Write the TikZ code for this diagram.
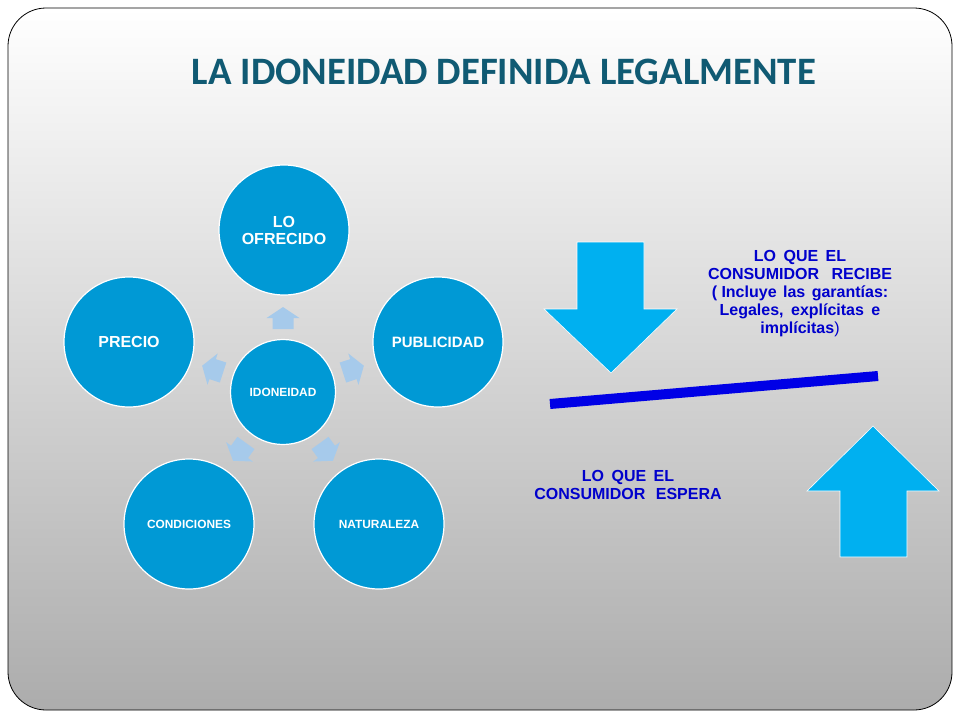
\documentclass[tikz,border=0pt]{standalone}
\usepackage{fontspec}
\setmainfont{Liberation Sans}
\newfontfamily\titlefont{Carlito}
\usetikzlibrary{calc}
\definecolor{titleteal}{RGB}{16,90,115}
\definecolor{circblue}{RGB}{0,153,213}
\definecolor{arrowlight}{RGB}{166,202,235}
\definecolor{bigarrow}{RGB}{0,176,240}
\definecolor{textblue}{RGB}{0,0,204}
\definecolor{barblue}{RGB}{0,0,230}
\begin{document}
\begin{tikzpicture}[x=1pt,y=1pt,
  titlestyle/.style={inner sep=0pt, text=titleteal, font=\titlefont\bfseries\fontsize{38.8}{42}\selectfont},
  bubble/.style={circle, fill=circblue, draw=white, line width=1.2pt, minimum size=130pt, inner sep=0pt,
    text=white, align=center, font=\bfseries\fontsize{16}{17}\selectfont},
  smalltext/.style={font=\bfseries\fontsize{11.9}{13}\selectfont},
  bluetext/.style={inner sep=0pt, text=textblue, align=center, font=\bfseries\fontsize{16}{18}\selectfont},
  bigarrowstyle/.style={fill=bigarrow, draw=white, line width=0.6pt},
  smallarrow/.pic={\fill[arrowlight] (-11,-10.5) -- (0,-10.5) -- (0,-16.5) -- (11,0) -- (0,16.5) -- (0,10.5) -- (-11,10.5) -- cycle;}
]
\useasboundingbox (0,0) rectangle (960,-720);
\fill[white] (0,0) rectangle (960,-720);
\shadedraw[top color=white, bottom color=gray!65, draw=black, line width=0.8pt, rounded corners=38pt] (8,-8) rectangle (952,-710);

% title
\node[titlestyle, anchor=base] (title) at (504,-84) {LA IDONEIDAD DEFINIDA LEGALMENTE};

% bubbles
\node[bubble] (ofr) at (284,-230) {LO\\OFRECIDO};
\node[bubble, font=\bfseries\fontsize{15}{17}\selectfont] (pub) at (438,-342) {PUBLICIDAD};
\node[bubble] (pre) at (129,-342) {PRECIO};
\node[bubble, smalltext] (cond) at (189,-524) {CONDICIONES};
\node[bubble, smalltext] (nat) at (379,-524) {NATURALEZA};
\node[bubble, smalltext, minimum size=105pt] (ido) at (283,-392) {IDONEIDAD};

% small arrows
\foreach \a in {90,18,162,-54,-126}{
  \path (ido.center) ++(\a:74) pic[rotate=\a] {smallarrow};
}

% big arrows
\filldraw[bigarrowstyle] (577,-242) -- (644,-242) -- (644,-309) -- (677,-309) -- (611,-373) -- (544,-309) -- (577,-309) -- cycle;
\filldraw[bigarrowstyle] (840,-557) -- (907,-557) -- (907,-491) -- (939,-491) -- (873,-426) -- (807,-491) -- (840,-491) -- cycle;

% bar
\coordinate (barL) at (550,-404);
\coordinate (barR) at (878,-376);
\draw[barblue, line width=10pt] (barL) -- (barR);

% texts
\node[bluetext, anchor=north] (recibe) at (800,-250.5) {LO\hspace{3pt} QUE\hspace{3pt} EL\\CONSUMIDOR\hspace{8pt} RECIBE\\( Incluye\hspace{2pt} las\hspace{2pt} garantías:\\Legales,\hspace{3pt} explícitas\hspace{3pt} e\\implícitas{\mdseries )}};
\node[bluetext, anchor=north] (espera) at (628,-470.5) {LO\hspace{3pt} QUE\hspace{3pt} EL\\CONSUMIDOR\hspace{6pt} ESPERA};
\end{tikzpicture}
\end{document}
